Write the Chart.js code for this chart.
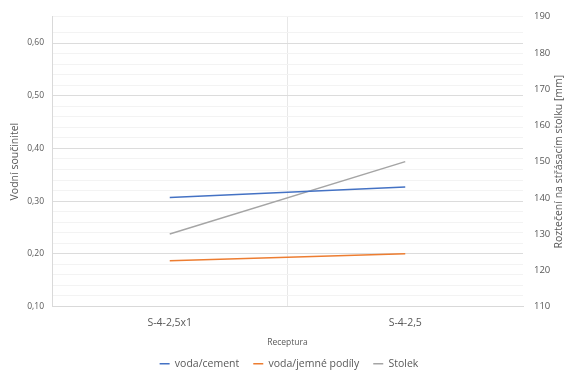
<!DOCTYPE html>
<html>
<head>
<meta charset="utf-8">
<script src="https://cdn.jsdelivr.net/npm/chart.js@4"></script>
<style>
  html, body { margin: 0; padding: 0; background: #fff; }
  #wrap { width: 569px; height: 372px; position: relative; }
</style>
</head>
<body>
<div id="wrap"><canvas id="myChart"></canvas></div>
<script>
const receptury = ['S-4-2,5x1', 'S-4-2,5'];
const vodaCement = [0.307, 0.327];
const vodaJemne = [0.187, 0.200];
const stolek = [130, 150];

const sedy = '#595959';
const pismo = '"Open Sans", "Noto Sans", sans-serif';
Chart.defaults.font.family = pismo;
Chart.defaults.color = sedy;

const ctx = document.getElementById('myChart');

const jeHlavni = v => Math.abs(v * 10 - Math.round(v * 10)) < 1e-6;

// pravy nadpis osy, otoceny stejne jako levy (zdola nahoru)
const pravyNadpis = {
  id: 'pravyNadpis',
  afterDraw(chart) {
    const c = chart.ctx;
    const area = chart.chartArea;
    c.save();
    c.translate(559, (area.top + area.bottom) / 2);
    c.rotate(-Math.PI / 2);
    c.font = '10.5px ' + pismo;
    c.fillStyle = sedy;
    c.textAlign = 'center';
    c.textBaseline = 'middle';
    c.fillText('Roztečení na střásacím stolku [mm]', 0, 0);
    c.restore();
  }
};

const myChart = new Chart(ctx, {
  type: 'line',
  data: {
    labels: receptury,
    datasets: [{
      label: 'voda/cement',
      data: vodaCement,
      borderColor: '#4472C4',
      backgroundColor: '#4472C4',
      borderWidth: 1.5,
      pointRadius: 0,
      yAxisID: 'y'
    }, {
      label: 'voda/jemné podíly',
      data: vodaJemne,
      borderColor: '#ED7D31',
      backgroundColor: '#ED7D31',
      borderWidth: 1.5,
      pointRadius: 0,
      yAxisID: 'y'
    }, {
      label: 'Stolek',
      data: stolek,
      borderColor: '#A5A5A5',
      backgroundColor: '#A5A5A5',
      borderWidth: 1.5,
      pointRadius: 0,
      yAxisID: 'y1'
    }]
  },
  options: {
    responsive: true,
    maintainAspectRatio: false,
    animation: false,
    layout: { padding: { top: 16, bottom: -7, left: 9, right: 0 } },
    plugins: {
      legend: {
        position: 'bottom',
        labels: {
          usePointStyle: true,
          pointStyle: 'line',
          pointStyleWidth: 10,
          boxWidth: 10,
          boxHeight: 1,
          padding: 14,
          font: { size: 10.5 },
          color: sedy
        }
      },
      tooltip: { enabled: false }
    },
    scales: {
      x: {
        offset: true,
        grid: {
          offset: true,
          drawTicks: false,
          color: c => c.index === 1 ? '#e8e8e8' : 'rgba(0,0,0,0)'
        },
        border: { color: '#d9d9d9' },
        ticks: { font: { size: 10.5 }, color: sedy, padding: 10 },
        title: { display: true, text: 'Receptura', font: { size: 8.5 }, color: sedy, padding: { top: 4, bottom: -3 } },
        afterFit: s => { s.height = 38; }
      },
      y: {
        position: 'left',
        min: 0.1,
        max: 0.65,
        ticks: {
          stepSize: 0.02,
          autoSkip: false,
          font: { size: 8.5 },
          color: sedy,
          padding: 8,
          callback: v => (jeHlavni(v) && v <= 0.6 + 1e-6) ? v.toFixed(2).replace('.', ',') : ''
        },
        grid: {
          drawTicks: false,
          color: c => jeHlavni(c.tick.value) ? '#dcdcdc' : '#f3f3f3'
        },
        border: { color: '#d9d9d9' },
        title: { display: true, text: 'Vodní součinitel', font: { size: 10.5 }, color: sedy, padding: 0 },
        afterFit: s => { s.width = 43; }
      },
      y1: {
        position: 'right',
        min: 110,
        max: 190,
        ticks: { stepSize: 10, font: { size: 9.5 }, color: sedy, padding: 11 },
        grid: { display: false, drawTicks: false },
        border: { display: false },
        afterFit: s => { s.width = 46; }
      }
    }
  },
  plugins: [pravyNadpis]
});
</script>
</body>
</html>
